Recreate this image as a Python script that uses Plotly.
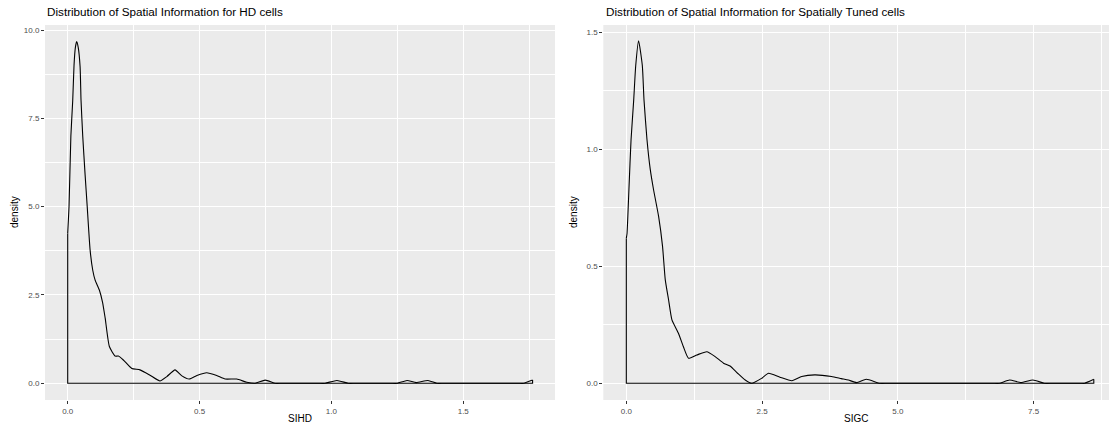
import plotly.graph_objects as go

# Kernel density estimate of spatial information, head-direction cells
sihd_x = [0.0, 0.005, 0.012, 0.019, 0.024, 0.029, 0.034, 0.040, 0.047, 0.0505,
          0.057, 0.066, 0.074, 0.085, 0.095, 0.104, 0.12, 0.132, 0.142, 0.158,
          0.18, 0.192, 0.211, 0.243, 0.274, 0.312, 0.35, 0.376, 0.407, 0.433,
          0.461, 0.49, 0.527, 0.565, 0.597, 0.641, 0.679, 0.711, 0.749, 0.787,
          0.81, 0.88, 0.95, 0.976, 1.021, 1.064, 1.09, 1.17, 1.225, 1.25,
          1.287, 1.322, 1.366, 1.40, 1.425, 1.5, 1.6, 1.68, 1.71, 1.729,
          1.763]
sihd_density = [4.25, 5.0, 7.0, 8.0, 9.0, 9.5, 9.67, 9.5, 8.96, 8.02,
                7.0, 5.9, 5.0, 3.77, 3.2, 2.92, 2.64, 2.3, 1.85, 1.04,
                0.77, 0.77, 0.66, 0.42, 0.38, 0.23, 0.065, 0.19, 0.38, 0.21,
                0.12, 0.22, 0.30, 0.22, 0.12, 0.12, 0.03, 0.0, 0.09, 0.0,
                0.0, 0.0, 0.0, 0.0, 0.08, 0.0, 0.0, 0.0, 0.0, 0.0,
                0.08, 0.02, 0.08, 0.0, 0.0, 0.0, 0.0, 0.0, 0.0, 0.0,
                0.09]

# Kernel density estimate of spatial information, spatially tuned cells
sigc_x = [0.0, 0.013, 0.05, 0.087, 0.136, 0.173, 0.226, 0.295, 0.326, 0.38,
          0.441, 0.50, 0.594, 0.667, 0.717, 0.778, 0.84, 0.96, 1.05, 1.145,
          1.30, 1.483, 1.636, 1.79, 1.91, 2.05, 2.19, 2.31, 2.49, 2.62,
          2.83, 3.05, 3.23, 3.47, 3.78, 3.96, 4.09, 4.24, 4.42, 4.67,
          4.8, 5.3, 5.9, 6.5, 6.75, 6.87, 7.06, 7.27, 7.49, 7.70,
          7.85, 8.05, 8.25, 8.38, 8.44, 8.61]
sigc_density = [0.62, 0.64, 0.84, 1.04, 1.21, 1.357, 1.464, 1.357, 1.21, 1.043,
                0.914, 0.829, 0.714, 0.585, 0.443, 0.357, 0.271, 0.214, 0.157, 0.107,
                0.121, 0.135, 0.114, 0.086, 0.074, 0.043, 0.014, 0.0, 0.021, 0.043,
                0.026, 0.011, 0.029, 0.036, 0.029, 0.02, 0.014, 0.003, 0.017, 0.0,
                0.0, 0.0, 0.0, 0.0, 0.0, 0.0, 0.014, 0.003, 0.014, 0.0,
                0.0, 0.0, 0.0, 0.0, 0.0, 0.017]

titles = ["Distribution of Spatial Information for HD cells",
          "Distribution of Spatial Information for Spatially Tuned cells"]
x_titles = ["SIHD", "SIGC"]

sihd_xticks = [0.0, 0.5, 1.0, 1.5]
sihd_xticklabels = ["0.0", "0.5", "1.0", "1.5"]
sihd_yticks = [0.0, 2.5, 5.0, 7.5, 10.0]
sihd_yticklabels = ["0.0", "2.5", "5.0", "7.5", "10.0"]
sigc_xticks = [0.0, 2.5, 5.0, 7.5]
sigc_xticklabels = ["0.0", "2.5", "5.0", "7.5"]
sigc_yticks = [0.0, 0.5, 1.0, 1.5]
sigc_yticklabels = ["0.0", "0.5", "1.0", "1.5"]

W, H = 1109, 426
PANEL_BG = "#EBEBEB"
TICK_COL = "#4D4D4D"
FONT = "Liberation Sans, Arial, sans-serif"

fig = go.Figure()


def add_density(xs, ys, xa, ya):
    # smooth density curve
    fig.add_trace(go.Scatter(x=xs, y=ys, mode="lines", xaxis=xa, yaxis=ya,
                             line=dict(color="black", width=1.1, shape="spline", smoothing=0.5),
                             hoverinfo="skip", showlegend=False))
    # closing outline: sides and baseline of the density area
    fig.add_trace(go.Scatter(x=[xs[0], xs[0], xs[-1], xs[-1]],
                             y=[ys[0], 0, 0, ys[-1]], mode="lines",
                             xaxis=xa, yaxis=ya,
                             line=dict(color="black", width=1.1),
                             hoverinfo="skip", showlegend=False))


add_density(sihd_x, sihd_density, "x", "y")
add_density(sigc_x, sigc_density, "x2", "y2")

y_dom = [1 - 400 / H, 1 - 25 / H]


def axis_style(domain, rng, tickvals, ticktext, minor_tick0, minor_dtick, anchor):
    return dict(domain=domain, range=rng, anchor=anchor,
                tickmode="array", tickvals=tickvals, ticktext=ticktext,
                ticks="outside", ticklen=3, tickwidth=1, tickcolor="#333333",
                tickfont=dict(family=FONT, size=8, color=TICK_COL),
                showgrid=True, gridcolor="white", gridwidth=1.1,
                zeroline=False, showline=False,
                minor=dict(tick0=minor_tick0, dtick=minor_dtick, showgrid=True,
                           gridcolor="white", gridwidth=0.5, ticks=""),
                fixedrange=True)


fig.update_layout(
    width=W, height=H,
    margin=dict(l=0, r=0, t=0, b=0),
    paper_bgcolor="white", plot_bgcolor=PANEL_BG,
    xaxis=axis_style([45 / W, 555 / W], [-0.0861, 1.848], sihd_xticks, sihd_xticklabels, 0.25, 0.5, "y"),
    yaxis=axis_style(y_dom, [-0.473, 10.142], sihd_yticks, sihd_yticklabels, 1.25, 2.5, "x"),
    xaxis2=axis_style([603.3 / W, 1.0], [-0.424, 8.89], sigc_xticks, sigc_xticklabels, 1.25, 2.5, "y2"),
    yaxis2=axis_style(y_dom, [-0.0714, 1.531], sigc_yticks, sigc_yticklabels, 0.25, 0.5, "x2"),
)

annotations = []
# panel titles
for px, txt in zip([45, 604], titles):
    annotations.append(dict(x=px / W, y=1 - 12 / H, xref="paper", yref="paper",
                            text=txt, showarrow=False, xanchor="left", yanchor="middle",
                            font=dict(family=FONT, size=11.7, color="black")))
# x axis titles
for px, txt in zip([300, 856], x_titles):
    annotations.append(dict(x=px / W, y=1 - 418 / H, xref="paper", yref="paper",
                            text=txt, showarrow=False, xanchor="center", yanchor="middle",
                            font=dict(family=FONT, size=10, color="black")))
# y axis titles
for px in [14, 573]:
    annotations.append(dict(x=px / W, y=1 - 212 / H, xref="paper", yref="paper",
                            text="density", showarrow=False, textangle=-90,
                            xanchor="center", yanchor="middle",
                            font=dict(family=FONT, size=10, color="black")))
fig.update_layout(annotations=annotations)

fig.write_html("out.html")
